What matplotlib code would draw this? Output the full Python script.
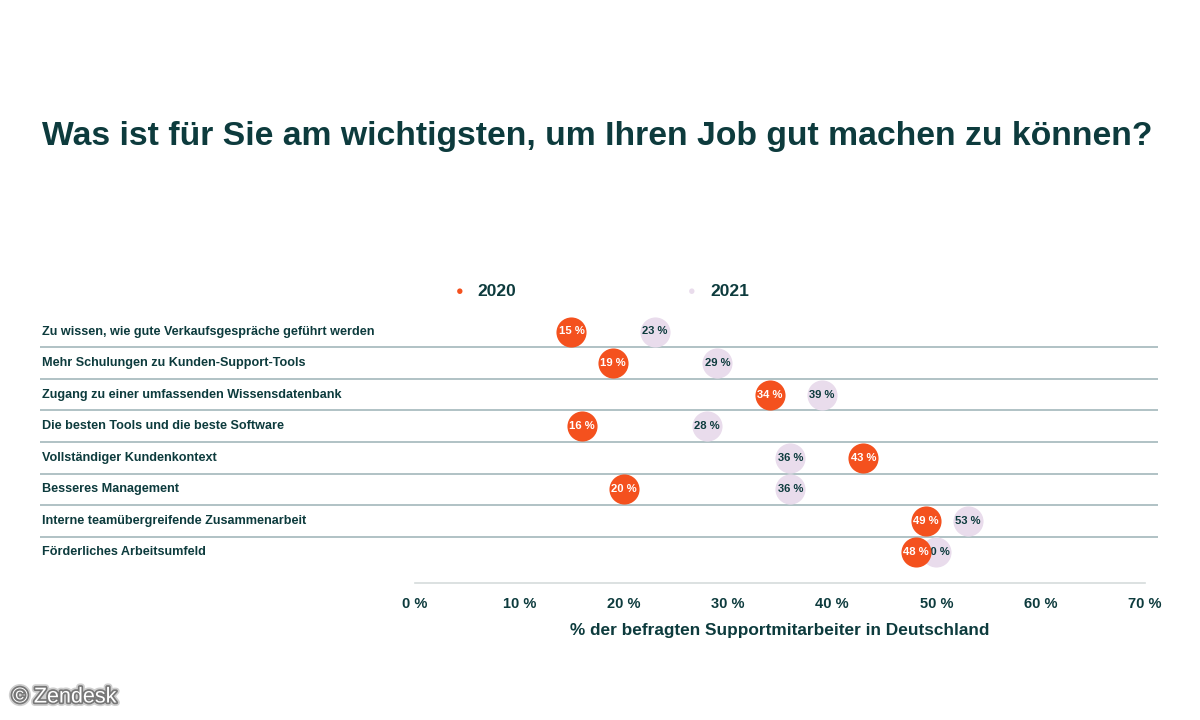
import matplotlib.pyplot as plt
import matplotlib.patheffects as pe

plt.rcParams['font.family'] = ['Liberation Sans', 'DejaVu Sans']

categories = [
    'Zu wissen, wie gute Verkaufsgespräche geführt werden',
    'Mehr Schulungen zu Kunden-Support-Tools',
    'Zugang zu einer umfassenden Wissensdatenbank',
    'Die besten Tools und die beste Software',
    'Vollständiger Kundenkontext',
    'Besseres Management',
    'Interne teamübergreifende Zusammenarbeit',
    'Förderliches Arbeitsumfeld',
]
values_2020 = [15, 19, 34, 16, 43, 20, 49, 48]
values_2021 = [23, 29, 39, 28, 36, 36, 53, 50]
ticks = [0, 10, 20, 30, 40, 50, 60, 70]

TEXT = '#0d3b3d'
ORANGE = '#f4511e'
LAVENDER = '#e9dcec'
SEP = '#a3b7bb'

W, H = 1200, 720
fig = plt.figure(figsize=(12, 7.2), dpi=100)

# axes in pixel space: left 40, right 1158, top 315, bottom 590
left_px, right_px, top_px, bot_px = 40, 1158, 315, 590
ax = fig.add_axes([left_px / W, (H - bot_px) / H, (right_px - left_px) / W, (bot_px - top_px) / H])
scale = 70 / 730.0
ax.set_xlim(-(415 - left_px) * scale, 70 + (right_px - 1145) * scale)
row0, step = 331.5, 31.57
ax.set_ylim((bot_px - row0) / step, (top_px - row0) / step)

for s in ax.spines.values():
    s.set_visible(False)
ax.set_yticks([])
ax.set_xticks(ticks)
ax.set_xticklabels([f'{t} %' for t in ticks], fontsize=10.5, fontweight='bold', color=TEXT)
ax.tick_params(axis='x', length=0, pad=5)
ax.set_xlabel('% der befragten Supportmitarbeiter in Deutschland', fontsize=12.4,
              fontweight='bold', color=TEXT)
ax.xaxis.set_label_coords((780 - left_px) / (right_px - left_px), -(623 - bot_px) / (bot_px - top_px))

# separators between rows
for i in range(len(categories) - 1):
    ax.axhline(i + 0.5, color=SEP, lw=1.2, zorder=1)
# bottom axis line
ax.plot([0, 70], [(583 - row0) / step] * 2, color='#d5dcdc', lw=1.2, zorder=1)

ys = list(range(len(categories)))
for y, name in zip(ys, categories):
    ax.text(0.002, y, name, transform=ax.get_yaxis_transform(), ha='left', va='center',
            fontsize=9.05, fontweight='bold', color=TEXT)

ax.scatter(values_2021, ys, s=470, color=LAVENDER, zorder=2, linewidths=0)
for v, y in zip(values_2021, ys):
    ax.text(v, y, f'{v} %', ha='center', va='center', fontsize=8.1, fontweight='bold',
            color=TEXT, zorder=3)
ax.scatter(values_2020, ys, s=470, color=ORANGE, zorder=4, linewidths=0)
for v, y in zip(values_2020, ys):
    ax.text(v, y, f'{v} %', ha='center', va='center', fontsize=8.1, fontweight='bold',
            color='white', zorder=5)

# legend
fig.text(460 / W, 1 - 292 / H, '●', color=ORANGE, fontsize=9, ha='center', va='center')
fig.text(477 / W, 1 - 292 / H, '2020', color=TEXT, fontsize=12.5, fontweight='bold', va='center')
fig.text(692 / W, 1 - 292 / H, '●', color=LAVENDER, fontsize=9, ha='center', va='center')
fig.text(710 / W, 1 - 292 / H, '2021', color=TEXT, fontsize=12.5, fontweight='bold', va='center')

fig.text(42 / W, 1 - 136 / H, 'Was ist für Sie am wichtigsten, um Ihren Job gut machen zu können?',
         fontsize=24.3, fontweight='bold', color=TEXT, va='center', ha='left')

fig.text(12 / W, 1 - 697 / H, '© Zendesk', fontsize=15.5, color='white', va='center', ha='left',
         path_effects=[pe.withStroke(linewidth=5, foreground='#b0b0b0', alpha=0.6),
                       pe.withStroke(linewidth=2.5, foreground='#777777')])

fig.savefig('out.png', dpi=100, facecolor='white')
